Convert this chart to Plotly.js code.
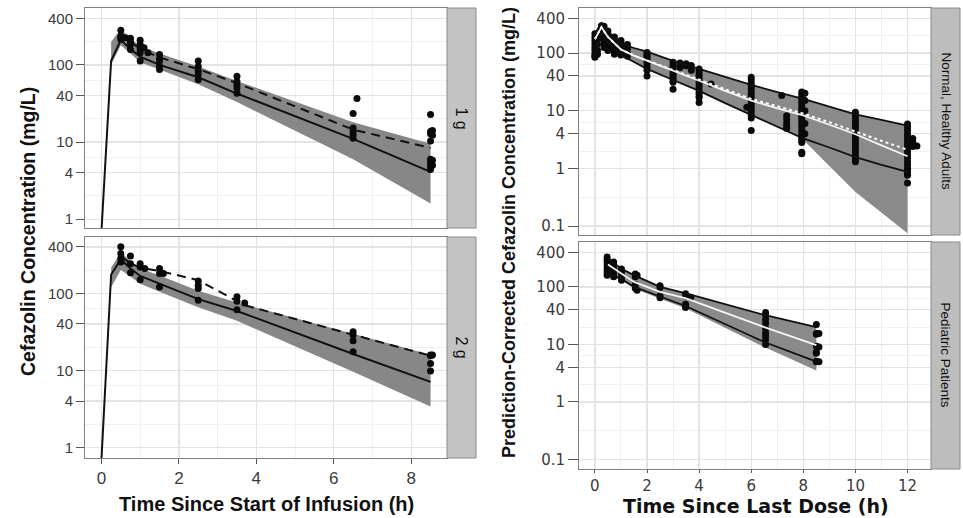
<!DOCTYPE html>
<html>
<head>
<meta charset="utf-8">
<script src="https://cdn.plot.ly/plotly-3.0.1.min.js"></script>
<style>html,body{margin:0;padding:0;background:#fff;}#chart{width:963px;height:518px;}</style>
</head>
<body>
<div id="chart"></div>
<script>
// ---------------- DATA ----------------
// Left panels (Time Since Start of Infusion, h)
var lineTime1g   = [0, 0.25, 0.5, 0.75, 1, 1.5, 2.5, 3.5, 6.5, 8.5];
var predMedian1g = [0.7, 113, 210, 160, 128, 100, 69, 42.5, 11, 4.1];
var obsTime1g    = [0.5, 0.75, 1, 1.5, 2.5, 3.5, 6.5, 8.5];
var obsMedian1g  = [240, 200, 160, 125, 88, 58, 14.5, 8.4];
var bandTime1g   = [0.25, 0.5, 0.75, 1, 1.5, 2.5, 3.5, 6.5, 8.5];
var bandHigh1g   = [200, 290, 220, 175, 140, 95, 62, 18, 9.5];
var bandLow1g    = [100, 180, 140, 108, 86, 56, 33, 6.0, 1.6];
var ptTime1g = [0.5,0.5,0.5,0.5, 0.62, 0.75,0.75,0.75,0.75, 1,1,1,1,1, 1.1, 1.2, 1.5,1.5,1.5,1.5,1.5,
                2.5,2.5,2.5,2.5,2.5, 3.5,3.5,3.5,3.5,3.5, 6.5,6.5,6.5,6.5,6.5, 6.6,
                8.5,8.5,8.5,8.5,8.5,8.5,8.5,8.5, 8.55,8.55,8.55,8.55];
var ptConc1g = [281,237,214,230, 225, 221,200,184,158, 208,184,158,144,112, 167, 144, 136,120,112,96,87,
                112,95,83,75,64, 71,61,55,50,43, 23.4,15.2,13.7,12.4,11.2, 36.7,
                22.7,13.7,12.8,10.3,6.0,5.4,4.9,4.4, 14.1,12.2,5.8,5.0];

var lineTime2g   = [0, 0.25, 0.5, 0.75, 1, 1.5, 2.5, 3.5, 6.5, 8.5];
var predMedian2g = [0.7, 175, 275, 210, 168, 133, 84, 59, 16.3, 7.1];
var obsTime2g    = [0.5, 0.75, 1, 1.5, 2.5, 3.5, 3.7, 6.5, 8.5];
var obsMedian2g  = [300, 245, 215, 195, 148, 80, 70, 29, 15.5];
var bandTime2g   = [0.25, 0.5, 0.75, 1, 1.5, 2.5, 3.5, 6.5, 8.5];
var bandHigh2g   = [215, 340, 265, 210, 170, 108, 76, 30, 16];
var bandLow2g    = [120, 200, 165, 133, 105, 66, 44, 9.6, 3.4];
var ptTime2g = [0.5,0.5,0.5,0.5, 0.75,0.75,0.75, 1,1,1, 1.12, 1.5,1.5,1.5, 1.6,
                2.5,2.5,2.5,2.5, 3.5,3.5,3.5, 3.7, 6.5,6.5,6.5,6.5, 8.5,8.5,8.5,8.5, 8.55];
var ptConc2g = [400,327,285,255, 305,242,184, 242,219,150, 209, 209,180,121, 180,
                144,127,115,81, 90,79,61, 75, 31.8,28.7,24.3,17.5, 15.8,15.5,12.3,9.8, 15.8];

// Right panels (Time Since Last Dose, h)
var adultTime     = [0, 0.25, 0.5, 1, 1.5, 2, 3, 4, 5, 6, 7, 8, 9, 10, 11, 12];
var adultUpper    = [215, 330, 240, 145, 122, 106, 73, 53, 38, 28, 21, 16, 11.8, 8.6, 6.9, 5.5];
var adultMedian   = [174, 280, 190, 115, 90, 74, 50, 33, 22, 15, 11, 8.3, 5.7, 3.9, 2.5, 1.62];
var adultObsMed   = [174, 280, 190, 115, 90, 74, 50, 34, 23.5, 16, 12, 8.9, 6.3, 4.3, 3.0, 2.1];
var adultLower    = [90, 230, 150, 92, 70, 53, 34, 22, 13.5, 8.5, 5.3, 3.3, 2.3, 1.57, 1.15, 0.87];
var adultBandLow  = [90, 230, 150, 92, 70, 53, 34, 22, 13.5, 8.5, 5.3, 3.1, 1.1, 0.39, 0.17, 0.075];
var adultPtTime = [
  0,0,0,0,0,0,0,0,0, 0.1,0.1,0.1,0.1,0.1, 0.25,0.25,0.25,0.25,0.25,0.25, 0.35,0.35,0.35,0.35,0.35,0.35,
  0.5,0.5,0.5,0.5,0.5,0.5, 0.75,0.75,0.75,0.75,0.75,0.75, 1,1,1,1,1,1, 1.25,1.25,1.25,1.25,
  2,2,2,2,2,2,2,2,2,2,
  3,3,3,3,3,3,3,3,3,3,3, 3.27,3.27,3.27, 3.5,3.5, 3.7,3.7,
  4,4,4,4,4,4,4,4,4,4,4,4,4, 4.46,
  5.83, 6,6,6,6,6,6,6,6,6,6,6,6,6,6,6,6,
  7.17, 7.36,7.36,7.36,7.36,7.36,
  7.94,7.94,7.94,7.94,7.94,7.94,7.94,7.94,7.94,7.94,7.94,7.94,7.94,7.94,7.94,7.94,7.94,7.94,7.94,7.94,7.94,7.94,
  8.06,8.06,8.06,8.06,8.06,
  10,10,10,10,10,10,10,10,10,10,10,10,10,10,10,10,10,
  12,12,12,12,12,12,12,12,12,12,12,12,12,12,12,12,12,12,12,
  12.2,12.2,12.2,12.2, 12.36];
var adultPtConc = [
  215,186,163,143,125,110,96,90,84, 200,170,140,110,95, 296,280,260,243,213,186, 290,250,200,170,150,125,
  240,200,170,143,125,110, 190,165,140,120,105,95, 165,150,130,115,100,92, 140,120,100,88,
  102,96,90,84,78,72,65,57,50,40,
  69,62,57,52,47,43,40,36,33,31,23.5, 67,60,56, 65,60, 61,50,
  53,48,43,39,35,31,28,25,22,20,18,17,13.8, 29,
  11.5, 38,34,30,27,24,21,19,17,15,13.5,12,10.8,9.7,8.5,7.5,4.55,
  18.3, 8.2,7,6,5.2,4.9,
  21,19,17,15.5,14,12.5,11,10,9,8,7.2,6.5,5.8,5.2,4.6,4.1,3.7,3.3,3,2.8,1.9,1.8,
  20,15,10,6,4,
  9.4,8.3,7.4,6.5,5.8,5.1,4.5,4,3.5,3.1,2.7,2.4,2.1,1.85,1.6,1.45,1.3,
  5.9,5.2,4.6,4,3.6,3.2,2.8,2.5,2.2,1.95,1.7,1.5,1.3,1.15,1.0,0.9,0.8,0.76,0.56,
  3.3,2.9,2.7,2.4, 2.45];

var pedTime     = [0.5, 1, 1.5, 2.5, 3.5, 6.5, 8.5];
var pedUpper    = [310, 209, 160, 100, 77, 32.5, 20];
var pedMedian   = [245, 171, 122, 82, 63, 20, 9.7];
var pedLower    = [171, 140, 100, 67, 46, 11, 5.0];
var pedBandLow  = [160, 130, 95, 62, 42, 9, 3.5];
var pedPtTime = [0.47,0.47,0.47,0.47,0.47,0.47,0.47,0.47, 0.72,0.72,0.72,0.72,0.72, 1.02,1.02,1.02,1.02,
                 1.55,1.55,1.55,1.55,1.62,1.62, 2.5,2.5,2.5,2.5, 3.48,3.48,3.48,3.48,3.48, 3.68,
                 6.55,6.55,6.55,6.55,6.55,6.55,6.55,6.55,6.55,
                 8.5,8.5,8.5,8.5,8.5,8.5,8.5,8.5, 8.6,8.6,8.6];
var pedPtConc = [330,300,270,240,215,190,175,160, 270,240,200,175,150, 205,180,150,130,
                 168,150,110,95,160,87, 105,98,70,65, 76,70,50,46,44, 66,
                 36,32,27,23,19,16,14,12,10,
                 22.2,15.5,15,9.3,7.4,7,5.1,5.0, 15.5,9,5];

var leftYTicks  = [1, 4, 10, 40, 100, 400];
var rightYTicks = [0.1, 1, 4, 10, 40, 100, 400];
var leftXTicks  = [0, 2, 4, 6, 8];
var rightXTicks = [0, 2, 4, 6, 8, 10, 12];
var stripLabels = ['1 g', '2 g', 'Normal, Healthy Adults', 'Pediatric Patients'];

// ---------------- HELPERS ----------------
function band(xs, hi, lo, xa, ya, color) {
  return {x: xs.concat(xs.slice().reverse()), y: hi.concat(lo.slice().reverse()),
          xaxis: xa, yaxis: ya, type: 'scatter', mode: 'lines', fill: 'toself',
          fillcolor: color, line: {width: 0}, hoverinfo: 'skip', showlegend: false};
}
function line(xs, ys, xa, ya, color, dash, w) {
  return {x: xs, y: ys, xaxis: xa, yaxis: ya, type: 'scatter', mode: 'lines',
          line: {color: color, width: w || 2, dash: dash || 'solid'}, showlegend: false};
}
function pts(xs, ys, xa, ya) {
  return {x: xs, y: ys, xaxis: xa, yaxis: ya, type: 'scatter', mode: 'markers',
          marker: {color: '#0a0a0a', size: 7}, showlegend: false};
}
function midLog(vals) {
  var out = [];
  for (var i = 0; i < vals.length - 1; i++) out.push(Math.sqrt(vals[i] * vals[i + 1]));
  return out;
}
function midLin(vals) {
  var out = [];
  for (var i = 0; i < vals.length - 1; i++) out.push((vals[i] + vals[i + 1]) / 2);
  return out;
}

var traces = [
  band(bandTime1g, bandHigh1g, bandLow1g, 'x', 'y', '#878787'),
  line(lineTime1g, predMedian1g, 'x', 'y', '#111'),
  line(obsTime1g, obsMedian1g, 'x', 'y', '#111', '9px,6px'),
  pts(ptTime1g, ptConc1g, 'x', 'y'),

  band(bandTime2g, bandHigh2g, bandLow2g, 'x2', 'y2', '#878787'),
  line(lineTime2g, predMedian2g, 'x2', 'y2', '#111'),
  line(obsTime2g, obsMedian2g, 'x2', 'y2', '#111', '9px,6px'),
  pts(ptTime2g, ptConc2g, 'x2', 'y2'),

  band(adultTime, adultUpper, adultBandLow, 'x3', 'y3', '#8a8a8a'),
  pts(adultPtTime, adultPtConc, 'x3', 'y3'),
  line(adultTime, adultUpper, 'x3', 'y3', '#111', 'solid', 1.8),
  line(adultTime, adultLower, 'x3', 'y3', '#111', 'solid', 1.8),
  line(adultTime, adultObsMed, 'x3', 'y3', '#ffffff', 'dot', 2),
  line(adultTime, adultMedian, 'x3', 'y3', '#f4f4f4', 'solid', 1.8),

  band(pedTime, pedUpper, pedBandLow, 'x4', 'y4', '#8a8a8a'),
  pts(pedPtTime, pedPtConc, 'x4', 'y4'),
  line(pedTime, pedUpper, 'x4', 'y4', '#111', 'solid', 1.8),
  line(pedTime, pedLower, 'x4', 'y4', '#111', 'solid', 1.8),
  line(pedTime, pedMedian, 'x4', 'y4', '#f4f4f4', 'solid', 1.8)
];

var W = 963, H = 518;
function dx(a, b) { return [a / W, b / W]; }
function dy(top, bottom) { return [1 - bottom / H, 1 - top / H]; }

var gridMajor = '#e3e3e3', gridMinor = '#f1f1f1';
function xax(dom, range, ticks, showLabels, anchor, fontFam, fontSize, ticklen) {
  return {domain: dom, range: range, anchor: anchor, tickmode: 'array', tickvals: ticks,
          ticktext: ticks.map(String), showticklabels: showLabels,
          ticks: showLabels ? 'outside' : '', ticklen: ticklen, tickcolor: '#555', tickwidth: 1,
          tickfont: {family: fontFam, size: fontSize, color: '#3a3a3a'},
          showgrid: true, gridcolor: gridMajor, gridwidth: 1.3, zeroline: false,
          minor: {tickmode: 'array', tickvals: midLin(ticks.concat([ticks[ticks.length - 1] + 2])), showgrid: true, gridcolor: gridMinor, gridwidth: 1, ticks: ''},
          showline: true, mirror: true, linecolor: '#808080', linewidth: 1, fixedrange: true};
}
function yax(dom, range, ticks, minorTicks, anchor, fontFam, fontSize, ticklen) {
  return {domain: dom, type: 'log', range: range, anchor: anchor, tickmode: 'array', tickvals: ticks,
          ticktext: ticks.map(String), ticks: 'outside', ticklen: ticklen, tickcolor: '#555', tickwidth: 1,
          tickfont: {family: fontFam, size: fontSize, color: '#3a3a3a'},
          showgrid: true, gridcolor: gridMajor, gridwidth: 1.3, zeroline: false,
          minor: {tickmode: 'array', tickvals: minorTicks, showgrid: true, gridcolor: gridMinor, gridwidth: 1, ticks: ''},
          showline: true, mirror: true, linecolor: '#808080', linewidth: 1, fixedrange: true};
}

var leftMinor = [0.5].concat(midLog(leftYTicks));
var rightMinor = midLog(rightYTicks);
var LX = dx(85, 447), RX = dx(579, 931);
var arial = 'Liberation Sans, Arial, sans-serif', deja = 'DejaVu Sans, sans-serif';

function ann(text, px, py, size, fam, angle) {
  return {text: text, xref: 'paper', yref: 'paper', x: px / W, y: 1 - py / H,
          xanchor: 'center', yanchor: 'middle', showarrow: false, textangle: angle || 0,
          font: {family: fam, size: size, color: '#111'}};
}

var layout = {
  width: W, height: H, margin: {l: 0, r: 0, t: 0, b: 0},
  paper_bgcolor: '#ffffff', plot_bgcolor: '#ffffff', showlegend: false,
  xaxis:  xax(LX, [-0.425, 8.925], leftXTicks, false, 'y', arial, 17, 5),
  yaxis:  yax(dy(8, 228), [-0.114, 2.737], leftYTicks, leftMinor, 'x', arial, 15, 8),
  xaxis2: xax(LX, [-0.425, 8.925], leftXTicks, true, 'y2', arial, 17, 5),
  yaxis2: yax(dy(237, 458), [-0.136, 2.73], leftYTicks, leftMinor, 'x2', arial, 15, 8),
  xaxis3: xax(RX, [-0.61, 12.9], rightXTicks, false, 'y3', deja, 15, 3),
  yaxis3: yax(dy(8, 235), [-1.155, 2.78], rightYTicks, rightMinor, 'x3', deja, 15, 10),
  xaxis4: xax(RX, [-0.61, 12.9], rightXTicks, true, 'y4', deja, 15, 3),
  yaxis4: yax(dy(242, 469), [-1.168, 2.781], rightYTicks, rightMinor, 'x4', deja, 15, 10),
  shapes: [
    {type: 'rect', xref: 'paper', yref: 'paper', x0: 447 / W, x1: 476 / W, y0: 1 - 228 / H, y1: 1 - 8 / H, fillcolor: '#c3c3c3', line: {color: '#8a8a8a', width: 1}},
    {type: 'rect', xref: 'paper', yref: 'paper', x0: 447 / W, x1: 476 / W, y0: 1 - 458 / H, y1: 1 - 237 / H, fillcolor: '#c3c3c3', line: {color: '#8a8a8a', width: 1}},
    {type: 'rect', xref: 'paper', yref: 'paper', x0: 931 / W, x1: 960 / W, y0: 1 - 235 / H, y1: 1 - 8 / H, fillcolor: '#bdbdbd', line: {color: '#8a8a8a', width: 1}},
    {type: 'rect', xref: 'paper', yref: 'paper', x0: 931 / W, x1: 960 / W, y0: 1 - 469 / H, y1: 1 - 242 / H, fillcolor: '#bdbdbd', line: {color: '#8a8a8a', width: 1}}
  ],
  annotations: [
    ann(stripLabels[0], 461.5, 118, 16, arial, 90),
    ann(stripLabels[1], 461.5, 347, 16, arial, 90),
    ann(stripLabels[2], 945.5, 121, 13.5, arial, 90),
    ann(stripLabels[3], 945.5, 355, 13.5, arial, 90),
    ann('<b>Cefazolin Concentration (mg/L)</b>', 28, 232, 19.5, arial, -90),
    ann('<b>Prediction-Corrected Cefazolin Concentration (mg/L)</b>', 509, 233, 18, arial, -90),
    ann('<b>Time Since Start of Infusion (h)</b>', 266, 504, 20, arial, 0),
    ann('<b>Time Since Last Dose (h)</b>', 756, 505.5, 19, deja, 0)
  ]
};

Plotly.newPlot('chart', traces, layout, {staticPlot: true, displayModeBar: false});
</script>
</body>
</html>
